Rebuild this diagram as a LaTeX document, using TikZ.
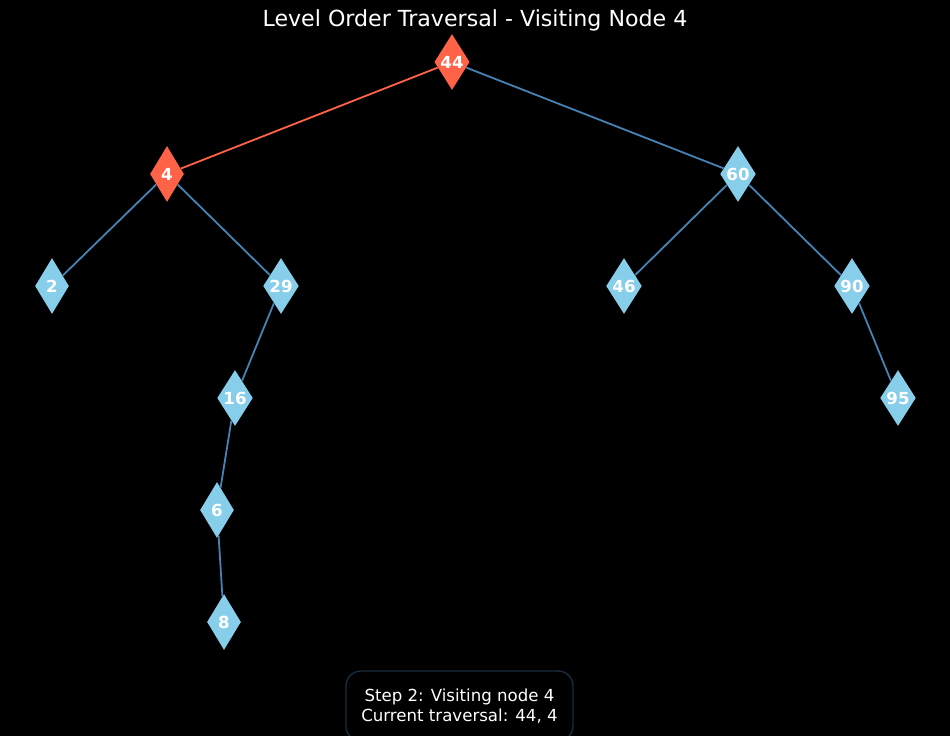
\documentclass[tikz,border=0pt]{standalone}
\usepackage{fontspec}
\setmainfont{DejaVu Sans}
\usepackage{xcolor}
\usetikzlibrary{shapes.geometric}

\definecolor{tomato}{RGB}{255,99,71}
\definecolor{skyblue}{RGB}{135,206,235}
\definecolor{steelblue}{RGB}{70,130,180}

\begin{document}
\begin{tikzpicture}[
    % GLOBAL CFG
    x=2.54cm,
    y=-2.54cm,
    % Styles
    treenode/.style={% For the tree nodes
        diamond,
        fill=skyblue,
        text=white,
        inner sep=0pt,
        minimum width=0.86cm,
        minimum height=1.42cm,
        font=\fontsize{12}{14}\selectfont\bfseries,
        },
    visited/.style={% For the node being visited
        treenode,
        fill=tomato,
        },
    edge/.style={% For the links
        line width=1.3pt,
        steelblue,
        },
    hotedge/.style={% For the link just followed
        edge,
        tomato,
        },
    infobox/.style={% For the step text
        rectangle,
        rounded corners=10.8pt,
        draw=steelblue!35!black,
        line width=1pt,
        fill=black,
        text=white,
        align=center,
        minimum width=2.27*2.54cm,
        minimum height=0.70*2.54cm,
        font=\fontsize{12}{14.4}\selectfont,
        },
    ]

    % Background and size
    \useasboundingbox (0,0) rectangle (9.5,7.36);
    \fill [black] (0,0) rectangle (9.5,7.36);

    % Title
    \node [anchor=base, text=white, font=\fontsize{16}{19}\selectfont] (title) at (4.75,0.26) {Level Order Traversal - Visiting Node 4};

    % Draw the tree nodes named n#
    \node [visited] (n44) at (4.52,0.62) {44};
    \node [visited] (n4) at (1.67,1.74) {4};
    \node [treenode] (n60) at (7.38,1.74) {60};
    \node [treenode] (n2) at (0.52,2.86) {2};
    \node [treenode] (n29) at (2.81,2.86) {29};
    \node [treenode] (n46) at (6.24,2.86) {46};
    \node [treenode] (n90) at (8.52,2.86) {90};
    \node [treenode] (n16) at (2.35,3.98) {16};
    \node [treenode] (n95) at (8.98,3.98) {95};
    \node [treenode] (n6) at (2.17,5.10) {6};
    \node [treenode] (n8) at (2.24,6.22) {8};

    % Connecting all.
    \draw [hotedge] (n44) -- (n4);
    \draw [edge] (n44) -- (n60);
    \draw [edge] (n4) -- (n2);
    \draw [edge] (n4) -- (n29);
    \draw [edge] (n29) -- (n16);
    \draw [edge] (n16) -- (n6);
    \draw [edge] (n6) -- (n8);
    \draw [edge] (n60) -- (n46);
    \draw [edge] (n60) -- (n90);
    \draw [edge] (n90) -- (n95);

    % Step text
    \node [infobox] (info) at (4.595,7.06) {Step 2: Visiting node 4\\Current traversal: 44, 4};

\end{tikzpicture}
\end{document}
